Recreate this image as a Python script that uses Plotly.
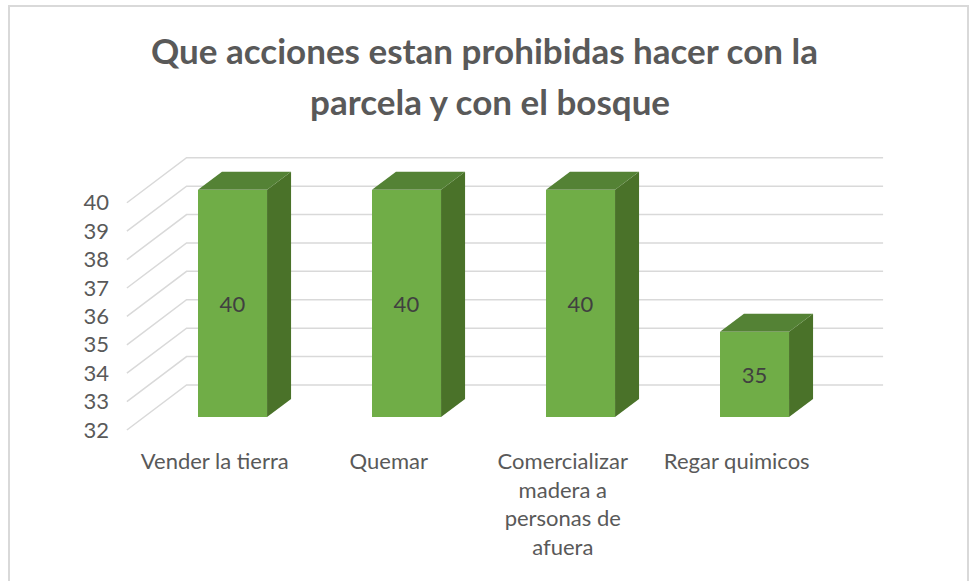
import plotly.graph_objects as go

# ---- data ----
categories = ["Vender la tierra", "Quemar",
              "Comercializar<br>madera a<br>personas de<br>afuera", "Regar quimicos"]
values = [40, 40, 40, 35]
y_ticks = [32, 33, 34, 35, 36, 37, 38, 39, 40]
title_line1 = "Que acciones estan prohibidas hacer con la"
title_line2 = "parcela y con el bosque"

# ---- geometry / style constants ----
W, H = 969, 581
ML, MR, MT, MB = 120, 69, 150, 141
PW, PH = W - ML - MR, H - MT - MB
XR = [-0.6466, 3.8362]
YR = [31.19, 41.40]
BASE = 32
BAR_W = 0.397
DEPTH_DX, DEPTH_DY = 0.138, 0.634       # bar depth
FRONT_DX, FRONT_DY = -0.102, -0.458     # front plane relative to bar plane
BACK_DX, BACK_DY = 0.241, 1.127         # back wall relative to bar plane
X_LEFT = -0.505                          # left wall at bar plane
X_RIGHT_END = 3.739

FRONT_C = "#70AD47"
TOP_C = "#548235"
SIDE_C = "#4A7229"
GRID_C = "#D9D9D9"
TEXT_C = "#595959"
FONT = "Lato, 'Open Sans', sans-serif"

xs = list(range(len(categories)))
fig = go.Figure()

# gridlines (left wall slanted + back wall horizontal) on the base subplot
gx, gy = [], []
for v in y_ticks:
    gx += [X_LEFT + FRONT_DX, X_LEFT + BACK_DX, X_RIGHT_END, None]
    gy += [v + FRONT_DY, v + BACK_DY, v + BACK_DY, None]
fig.add_trace(go.Scatter(x=gx, y=gy, mode="lines", line=dict(color=GRID_C, width=1.5),
                         hoverinfo="skip", showlegend=False))

# front faces (on an overlay subplot so they sit above the gridlines)
fig.add_trace(go.Bar(x=xs, y=[v - BASE for v in values], base=BASE, width=BAR_W,
                     xaxis="x3", yaxis="y3",
                     marker=dict(color=FRONT_C, line=dict(width=0)),
                     text=[str(v) for v in values], textposition="inside",
                     insidetextanchor="middle", textangle=0,
                     textfont=dict(color="#404040", size=22, family=FONT),
                     hoverinfo="x+y", showlegend=False))

# side and top faces
for x, v in zip(xs, values):
    r = x + BAR_W / 2
    l = x - BAR_W / 2
    fig.add_trace(go.Scatter(
        x=[r, r + DEPTH_DX, r + DEPTH_DX, r, r],
        y=[BASE, BASE + DEPTH_DY, v + DEPTH_DY, v, BASE],
        xaxis="x3", yaxis="y3",
        mode="lines", fill="toself", fillcolor=SIDE_C, line=dict(width=0, color=SIDE_C),
        hoverinfo="skip", showlegend=False))
    fig.add_trace(go.Scatter(
        x=[l, r, r + DEPTH_DX, l + DEPTH_DX, l],
        y=[v, v, v + DEPTH_DY, v + DEPTH_DY, v],
        xaxis="x3", yaxis="y3",
        mode="lines", fill="toself", fillcolor=TOP_C, line=dict(width=0, color=TOP_C),
        hoverinfo="skip", showlegend=False))

# invisible trace for the front-plane label axes
fig.add_trace(go.Scatter(x=[0], y=[BASE], xaxis="x2", yaxis="y2", mode="markers",
                         marker=dict(opacity=0), hoverinfo="skip", showlegend=False))

hidden = dict(showgrid=False, zeroline=False, showticklabels=False,
              showline=False, fixedrange=True)
fig.update_layout(
    width=W, height=H,
    margin=dict(l=ML, r=MR, t=MT, b=MB),
    paper_bgcolor="white", plot_bgcolor="white",
    title=dict(text="<b>" + title_line1 + "</b>", x=0.5, xanchor="center",
               y=1 - 52 / H, yanchor="middle",
               font=dict(family=FONT, size=35, color=TEXT_C)),
    xaxis=dict(range=XR, **hidden),
    yaxis=dict(range=YR, **hidden),
    xaxis3=dict(range=XR, overlaying="x", anchor="y3", **hidden),
    yaxis3=dict(range=YR, overlaying="y", anchor="x3", **hidden),
    xaxis2=dict(range=[XR[0] - FRONT_DX, XR[1] - FRONT_DX], overlaying="x", side="bottom",
                anchor="y2", tickmode="array", tickvals=xs, ticktext=categories,
                showgrid=False, zeroline=False, showline=False, ticks="",
                ticklabelstandoff=6, fixedrange=True,
                tickfont=dict(family=FONT, size=22, color=TEXT_C)),
    yaxis2=dict(range=[YR[0] - FRONT_DY, YR[1] - FRONT_DY], overlaying="y", side="left",
                anchor="x2", tickmode="array", tickvals=y_ticks,
                showgrid=False, zeroline=False, showline=False, ticks="",
                ticklabelstandoff=10, fixedrange=True,
                tickfont=dict(family=FONT, size=22, color=TEXT_C)),
    annotations=[dict(text="<b>" + title_line2 + "</b>", xref="paper", yref="paper",
                      x=(490 - ML) / PW, y=1 + (MT - 101) / PH,
                      xanchor="center", yanchor="middle",
                      showarrow=False, font=dict(family=FONT, size=35, color=TEXT_C))],
    shapes=[dict(type="rect", xref="paper", yref="paper",
                 x0=(9 - ML) / PW, x1=(968 - ML) / PW,
                 y0=1 - (600 - MT) / PH, y1=1 + (MT - 6) / PH,
                 line=dict(color=GRID_C, width=2), layer="below")],
    bargap=0,
)

fig.write_html("out.html", config={"displayModeBar": False},
               post_script="document.body.style.margin='0';")
